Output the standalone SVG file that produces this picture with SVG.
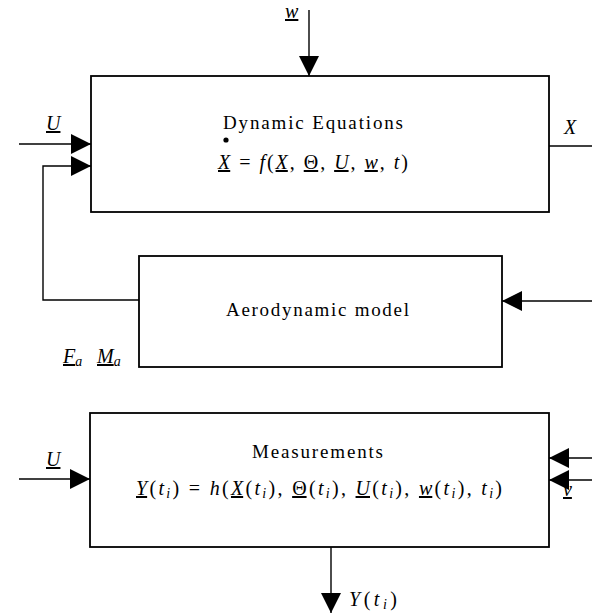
<svg xmlns="http://www.w3.org/2000/svg" width="592" height="614" viewBox="0 0 592 614">
<style>
.box{fill:#fff;stroke:#000;stroke-width:1.8}
.ln{fill:none;stroke:#000;stroke-width:1.4}
.t{font-family:"Liberation Serif","Times New Roman",serif;font-size:19px;fill:#000}
.m{font-family:"Liberation Serif","Times New Roman",serif;font-size:20px;fill:#000}
.i{font-style:italic}
.u{text-decoration:underline}
.s{font-size:14px;font-style:italic}
</style>
<defs>
<marker id="ah" viewBox="0 0 20 20" refX="20" refY="10" markerWidth="20" markerHeight="20" markerUnits="userSpaceOnUse" orient="auto">
<path d="M0,0 L20,10 L0,20 z" fill="#000"/>
</marker>
</defs>
<rect width="592" height="614" fill="#fff"/>
<g id="connectors">
<line class="ln" x1="309" y1="10" x2="309" y2="76" marker-end="url(#ah)"/>
<line class="ln" x1="19" y1="144" x2="91" y2="144" marker-end="url(#ah)"/>
<path class="ln" d="M139,300 L43,300 L43,166 L91,166" marker-end="url(#ah)"/>
<line class="ln" x1="549" y1="146" x2="592" y2="146"/>
<line class="ln" x1="592" y1="301" x2="502" y2="301" marker-end="url(#ah)"/>
<line class="ln" x1="19" y1="479" x2="90" y2="479" marker-end="url(#ah)"/>
<line class="ln" x1="592" y1="458" x2="549" y2="458" marker-end="url(#ah)"/>
<line class="ln" x1="592" y1="480" x2="549" y2="480" marker-end="url(#ah)"/>
<line class="ln" x1="331" y1="547" x2="331" y2="613" marker-end="url(#ah)"/>
</g>
<g id="dynamic-equations">
<rect class="box" x="91" y="76" width="458" height="136"/>
<text class="t" x="223" y="129" textLength="180" lengthAdjust="spacing">Dynamic Equations</text>
<circle cx="226" cy="140" r="2.6" fill="#000"/>
<text class="m" x="218" y="169" textLength="190" lengthAdjust="spacing"><tspan class="i u">X</tspan> = <tspan class="i">f</tspan>(<tspan class="i u">X</tspan>, <tspan class="u">Θ</tspan>, <tspan class="i u">U</tspan>, <tspan class="i u">w</tspan>, <tspan class="i">t</tspan>)</text>
</g>
<g id="aerodynamic-model">
<rect class="box" x="139" y="256" width="363" height="111"/>
<text class="t" x="226" y="316" textLength="183" lengthAdjust="spacing">Aerodynamic model</text>
</g>
<g id="measurements">
<rect class="box" x="90" y="413" width="459" height="134"/>
<text class="t" x="252" y="458" textLength="131" lengthAdjust="spacing">Measurements</text>
<text class="m" x="136" y="495" textLength="366" lengthAdjust="spacing"><tspan class="i u">Y</tspan>(<tspan class="i">t</tspan><tspan class="s" dy="3">i</tspan><tspan dy="-3">) = </tspan><tspan class="i">h</tspan>(<tspan class="i u">X</tspan>(<tspan class="i">t</tspan><tspan class="s" dy="3">i</tspan><tspan dy="-3">), </tspan><tspan class="u">Θ</tspan>(<tspan class="i">t</tspan><tspan class="s" dy="3">i</tspan><tspan dy="-3">), </tspan><tspan class="i u">U</tspan>(<tspan class="i">t</tspan><tspan class="s" dy="3">i</tspan><tspan dy="-3">), </tspan><tspan class="i u">w</tspan>(<tspan class="i">t</tspan><tspan class="s" dy="3">i</tspan><tspan dy="-3">), </tspan><tspan class="i">t</tspan><tspan class="s" dy="3">i</tspan><tspan dy="-3">)</tspan></text>
</g>
<g id="labels">
<text class="m i u" x="285" y="18">w</text>
<text class="m i u" x="46" y="130">U</text>
<text class="m i" x="564" y="134">X</text>
<text class="m" x="63" y="363"><tspan class="i u">F</tspan><tspan class="s" dy="3">a</tspan><tspan dy="-3"> </tspan><tspan class="i u" x="97">M</tspan><tspan class="s" dy="3">a</tspan></text>
<text class="m i u" x="46" y="466">U</text>
<text class="m i u" x="563" y="496">v</text>
<text class="m" x="349" y="606" textLength="48" lengthAdjust="spacing"><tspan class="i">Y</tspan>(<tspan class="i">t</tspan><tspan class="s" dy="3">i</tspan><tspan dy="-3">)</tspan></text>
</g>
</svg>
